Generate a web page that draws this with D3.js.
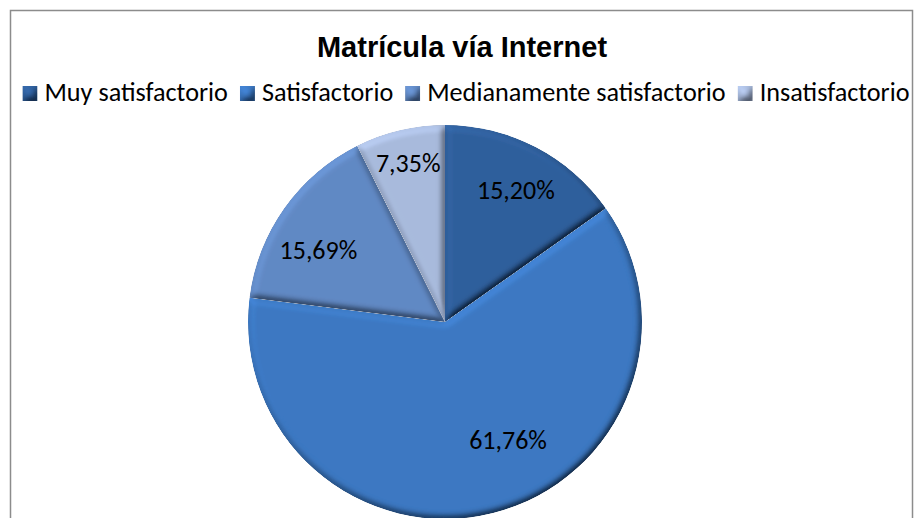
<!DOCTYPE html>
<html>
<head>
<meta charset="utf-8">
<script src="https://cdn.jsdelivr.net/npm/d3@7"></script>
<style>
  body { margin: 0; background: #fff; }
  svg { display: block; }
</style>
</head>
<body>
<svg id="chart"></svg>
<script>
var categories = ["Muy satisfactorio", "Satisfactorio", "Medianamente satisfactorio", "Insatisfactorio"];
var values = [15.20, 61.76, 15.69, 7.35];
var palette = ["#2f5f9c", "#3c78c2", "#6189c4", "#a8badc"];

// small adjustments to get close to excel's "best fit" label placement
var labelNudge = { "Muy satisfactorio": [3, 0], "Satisfactorio": [27, -24],
                   "Medianamente satisfactorio": [-6, 14], "Insatisfactorio": [-3, -14] };

var width = 914, height = 518;
var cx = 445, cy = 322, radius = 197;
var labelFont = "Carlito, Calibri, Lato, 'Open Sans', sans-serif";

var svg = d3.select("#chart")
            .attr("width", width)
            .attr("height", height);

var defs = svg.append("defs");

// bevel look: diffuse light from top-left multiplied onto the fill
var bevel = defs.append("filter")
                .attr("id", "bevel")
                .attr("x", "-5%").attr("y", "-5%")
                .attr("width", "110%").attr("height", "110%");
bevel.append("feGaussianBlur")
     .attr("in", "SourceAlpha")
     .attr("stdDeviation", 3.5)
     .attr("result", "blur");
bevel.append("feDiffuseLighting")
     .attr("in", "blur")
     .attr("surfaceScale", 5)
     .attr("diffuseConstant", 1)
     .attr("lighting-color", "#fff")
     .attr("result", "light")
   .append("feDistantLight")
     .attr("azimuth", 235)
     .attr("elevation", 55);
bevel.append("feComposite")
     .attr("in", "SourceGraphic")
     .attr("in2", "light")
     .attr("operator", "arithmetic")
     .attr("k1", 1 / Math.sin(55 * Math.PI / 180))
     .attr("k2", 0).attr("k3", 0).attr("k4", 0)
     .attr("result", "lit");
bevel.append("feComposite")
     .attr("in", "lit")
     .attr("in2", "SourceAlpha")
     .attr("operator", "in");

// chart border
svg.append("rect")
   .attr("x", 10.5)
   .attr("y", 10.5)
   .attr("width", 902)
   .attr("height", 520)
   .attr("fill", "#fff")
   .attr("stroke", "#8c8c8c")
   .attr("stroke-width", 1.5);

svg.append("text")
   .attr("x", 462)
   .attr("y", 57)
   .attr("text-anchor", "middle")
   .attr("font-family", "'Liberation Sans', Arial, sans-serif")
   .attr("font-weight", "bold")
   .attr("font-size", 29)
   .attr("fill", "#000")
   .text("Matrícula vía Internet");

var color = d3.scaleOrdinal()
              .domain(categories)
              .range(palette);

// legend, laid out by measuring each label
var legend = svg.append("g").classed("legend", true);
var items = legend.selectAll(".item")
                  .data(categories)
                  .enter()
                  .append("g")
                  .classed("item", true);

items.append("rect")
     .attr("width", 15)
     .attr("height", 15)
     .attr("y", -15)
     .attr("fill", d => color(d))
     .attr("filter", "url(#bevel)");

items.append("text")
     .attr("x", 22)
     .attr("font-family", labelFont)
     .attr("font-size", 26.2)
     .attr("fill", "#000")
     .text(d => d);

var x = 0;
items.each(function() {
  var g = d3.select(this);
  g.attr("transform", "translate(" + x + ",0)");
  x += 22 + g.select("text").node().getComputedTextLength() + 12;
});
var legendW = x - 12;
legend.attr("transform", "translate(" + (466 - legendW / 2) + ",101)");

// pie
var pie = d3.pie()
            .sort(null)
            .value(d => d.value);

var arc = d3.arc()
            .innerRadius(0)
            .outerRadius(radius);

var labelArc = d3.arc()
                 .innerRadius(radius * 0.75)
                 .outerRadius(radius * 0.75);

var rows = categories.map((c, i) => ({ category: c, value: values[i] }));
var slices = pie(rows);

var chart = svg.append("g")
               .attr("transform", "translate(" + cx + "," + cy + ")")
               .classed("chart", true);

chart.selectAll(".arc")
     .data(slices)
     .enter()
     .append("path")
     .classed("arc", true)
     .attr("d", arc)
     .attr("fill", d => color(d.data.category))
     .attr("filter", "url(#bevel)");

var fmt = d3.formatLocale({ decimal: ",", thousands: ".", grouping: [3], currency: ["", "%"] })
            .format(".2f");

chart.selectAll(".label")
     .data(slices)
     .enter()
     .append("text")
     .classed("label", true)
     .attr("transform", d => {
       var c = labelArc.centroid(d);
       var n = labelNudge[d.data.category];
       return "translate(" + (c[0] + n[0]) + "," + (c[1] + n[1] + 8) + ")";
     })
     .attr("text-anchor", "middle")
     .attr("font-family", labelFont)
     .attr("font-size", 26)
     .attr("fill", "#000")
     .text(d => fmt(d.data.value) + "%");
</script>
</body>
</html>
